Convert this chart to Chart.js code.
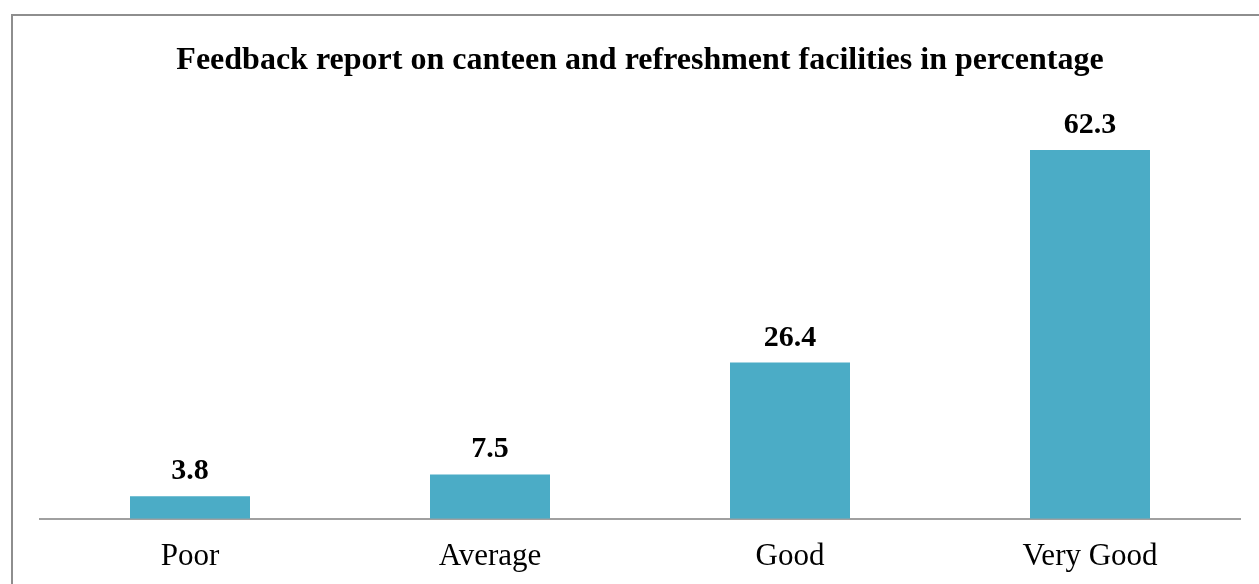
<!DOCTYPE html>
<html>
<head>
<meta charset="utf-8">
<script src="https://cdn.jsdelivr.net/npm/chart.js@4"></script>
<style>
  html, body { margin: 0; padding: 0; background: #fff; overflow: hidden; }
  #frame {
    position: absolute; left: 11px; top: 14px; width: 1300px; height: 620px;
    border-left: 2px solid #8e8e8e; border-top: 2px solid #8e8e8e;
  }
  #wrap { position: absolute; left: 0; top: 0; width: 1259px; height: 600px; }
</style>
</head>
<body>
<div id="frame"></div>
<div id="wrap"><canvas id="bars"></canvas></div>
<script>
const categories = ["Poor", "Average", "Good", "Very Good"];
const percentages = [3.8, 7.5, 26.4, 62.3];
const chartTitle = "Feedback report on canteen and refreshment facilities in percentage";

// draws the value above each bar
const valueLabels = {
  id: "valueLabels",
  afterDatasetsDraw(chart) {
    const ctx = chart.ctx;
    const meta = chart.getDatasetMeta(0);
    ctx.save();
    ctx.font = "bold 30px 'Liberation Serif', 'Times New Roman', serif";
    ctx.fillStyle = "#000";
    ctx.textAlign = "center";
    ctx.textBaseline = "alphabetic";
    meta.data.forEach((bar, i) => {
      ctx.fillText(String(percentages[i]), bar.x, bar.y - 17);
    });
    ctx.restore();
  },
};

const barConfig = {
  type: "bar",
  data: {
    labels: categories,
    datasets: [
      {
        label: "Percentage",
        backgroundColor: "#4bacc6",
        borderWidth: 0,
        barPercentage: 1,
        categoryPercentage: 0.4,
        data: percentages,
      },
    ],
  },
  options: {
    responsive: true,
    maintainAspectRatio: false,
    animation: false,
    layout: {
      padding: { top: 28, left: 40, right: 19, bottom: 6 },
    },
    plugins: {
      legend: { display: false },
      tooltip: { enabled: false },
      title: {
        display: true,
        text: chartTitle,
        color: "#000",
        font: { family: "'Liberation Serif', 'Times New Roman', serif", size: 32, weight: "bold" },
        padding: { top: 14, bottom: 24 },
      },
    },
    scales: {
      x: {
        grid: { display: false, drawTicks: false },
        border: { display: true, color: "#a0a0a0", width: 2 },
        ticks: {
          color: "#000",
          padding: 19,
          font: { family: "'Liberation Serif', 'Times New Roman', serif", size: 31 },
        },
      },
      y: {
        display: false,
        min: 0,
        max: 70,
      },
    },
  },
  plugins: [valueLabels],
};

const barsCtx = document.getElementById("bars");
window.myBar = new Chart(barsCtx, barConfig);
</script>
</body>
</html>
